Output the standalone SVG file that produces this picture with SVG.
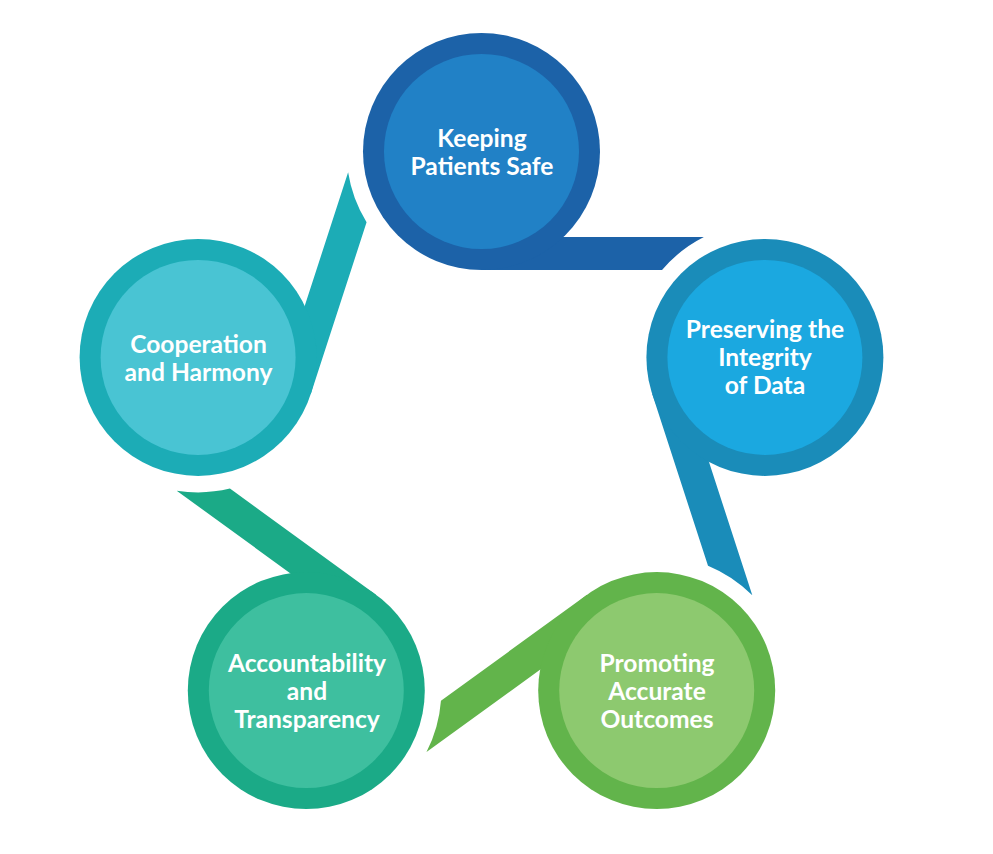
<svg xmlns="http://www.w3.org/2000/svg" width="993" height="854" viewBox="0 0 993 854">
  <style>
    .lbl { font-family: Lato, "Liberation Sans", sans-serif; font-weight: 700; font-size: 24.6px; fill: #ffffff; text-anchor: middle; }
  </style>
  <defs>
    <path id="tail" d="M 0 -212.5 L 222.37 -212.5 A 135 135 0 0 0 180.53 -179.5 L 0 -179.5 Z"/>
  </defs>
  <rect width="993" height="854" fill="#ffffff"/>
  <g id="connectors">
    <g transform="translate(481.5 449.5)">
      <use href="#tail" fill="#1C62A8" transform="rotate(0)"/>
      <use href="#tail" fill="#1A8CB9" transform="rotate(72)"/>
      <use href="#tail" fill="#62B44B" transform="rotate(144)"/>
      <use href="#tail" fill="#1BAA87" transform="rotate(216)"/>
      <use href="#tail" fill="#1CACB6" transform="rotate(288)"/>
    </g>
  </g>
  <g id="node-keeping-patients-safe">
    <circle cx="481.5" cy="151.5" r="118.5" fill="#1C62A8"/>
    <circle cx="481.5" cy="151.5" r="97.5" fill="#2181C6"/>
    <text class="lbl" x="482" y="147">Keeping</text>
    <text class="lbl" x="482" y="175">Patients Safe</text>
  </g>
  <g id="node-preserving-integrity">
    <circle cx="764.9" cy="357.4" r="118.5" fill="#1A8CB9"/>
    <circle cx="764.9" cy="357.4" r="97.5" fill="#1BA8E0"/>
    <text class="lbl" x="765" y="338">Preserving the</text>
    <text class="lbl" x="765" y="366">Integrity</text>
    <text class="lbl" x="765" y="394">of Data</text>
  </g>
  <g id="node-promoting-outcomes">
    <circle cx="656.7" cy="690.6" r="118.5" fill="#62B44B"/>
    <circle cx="656.7" cy="690.6" r="97.5" fill="#8DC96F"/>
    <text class="lbl" x="657" y="672">Promoting</text>
    <text class="lbl" x="657" y="700">Accurate</text>
    <text class="lbl" x="657" y="728">Outcomes</text>
  </g>
  <g id="node-accountability">
    <circle cx="306.3" cy="690.6" r="118.5" fill="#1BAA87"/>
    <circle cx="306.3" cy="690.6" r="97.5" fill="#3EBF9F"/>
    <text class="lbl" x="307" y="672">Accountability</text>
    <text class="lbl" x="307" y="700">and</text>
    <text class="lbl" x="307" y="728">Transparency</text>
  </g>
  <g id="node-cooperation">
    <circle cx="198.1" cy="357.4" r="118.5" fill="#1CACB6"/>
    <circle cx="198.1" cy="357.4" r="97.5" fill="#49C4D3"/>
    <text class="lbl" x="198.5" y="353">Cooperation</text>
    <text class="lbl" x="198.5" y="381">and Harmony</text>
  </g>
</svg>
